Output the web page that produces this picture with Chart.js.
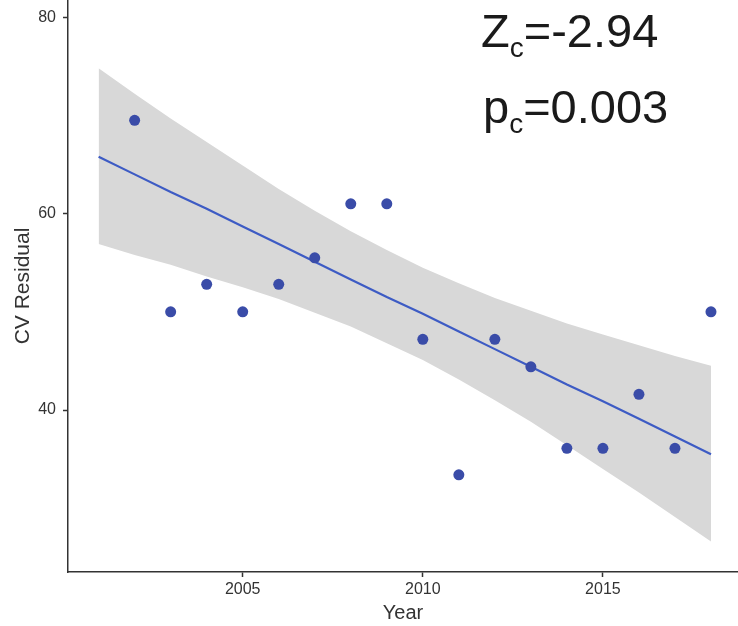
<!DOCTYPE html>
<html>
<head>
<meta charset="utf-8">
<script src="https://cdn.jsdelivr.net/npm/chart.js@4/dist/chart.umd.min.js"></script>
<style>
  body { margin: 0; background: #fff; }
  #wrap { width: 738px; height: 626px; }
</style>
</head>
<body>
<div id="wrap"><canvas id="chart" width="738" height="626"></canvas></div>
<script>
// observed points
const years = [2002, 2003, 2004, 2005, 2006, 2007, 2008, 2009, 2010, 2011, 2012, 2013, 2014, 2015, 2016, 2017, 2018];
const cvResidual = [69.5, 50.0, 52.8, 50.0, 52.8, 55.5, 61.0, 61.0, 47.2, 33.4, 47.2, 44.4, 36.1, 36.1, 41.6, 36.1, 50.0];

// fitted line and confidence band
const fitYears = [2001, 2002, 2003, 2004, 2005, 2006, 2007, 2008, 2009, 2010, 2011, 2012, 2013, 2014, 2015, 2016, 2017, 2018];
const fitValues = [65.8, 64.0, 62.2, 60.5, 58.7, 56.9, 55.1, 53.3, 51.5, 49.8, 48.0, 46.2, 44.4, 42.6, 40.9, 39.1, 37.3, 35.5];
const bandUpper = [74.8, 72.2, 69.7, 67.3, 64.9, 62.5, 60.3, 58.2, 56.3, 54.5, 52.9, 51.4, 50.1, 48.8, 47.7, 46.6, 45.5, 44.5];
const bandLower = [56.9, 55.8, 54.8, 53.6, 52.5, 51.3, 49.9, 48.5, 46.8, 45.1, 43.1, 41.0, 38.8, 36.4, 34.0, 31.6, 29.1, 26.6];

const xTicks = [2005, 2010, 2015];
const yTicks = [40, 60, 80];

const FONT = "'Liberation Sans', Arial, sans-serif";
const pairs = (xs, ys) => xs.map((x, i) => ({ x: x, y: ys[i] }));

function drawSub(ctx, main, sub, rest, x, y) {
    ctx.font = '47px ' + FONT;
    ctx.fillText(main, x, y);
    x += ctx.measureText(main).width;
    ctx.font = '28px ' + FONT;
    ctx.fillText(sub, x, y + 10);
    x += ctx.measureText(sub).width;
    ctx.font = '47px ' + FONT;
    ctx.fillText(rest, x, y);
}

const statsLabel = {
    id: 'statsLabel',
    afterDraw(chart) {
        const ctx = chart.ctx;
        ctx.save();
        ctx.fillStyle = '#1a1a1a';
        ctx.textBaseline = 'alphabetic';
        drawSub(ctx, 'Z', 'c', '=-2.94', 481, 47);
        drawSub(ctx, 'p', 'c', '=0.003', 483, 123);
        ctx.restore();
    }
};

new Chart(document.getElementById('chart').getContext('2d'), {
    type: 'scatter',
    data: {
        datasets: [
            {
                label: 'CV Residual',
                data: pairs(years, cvResidual),
                backgroundColor: '#3a4ca8',
                borderWidth: 0,
                pointRadius: 5.5,
                order: 0
            },
            {
                type: 'line',
                label: 'fit',
                data: pairs(fitYears, fitValues),
                borderColor: '#3d5bc4',
                borderWidth: 2.2,
                pointRadius: 0,
                fill: false,
                order: 1
            },
            {
                type: 'line',
                label: 'upper',
                data: pairs(fitYears, bandUpper),
                borderWidth: 0,
                pointRadius: 0,
                backgroundColor: '#d8d8d8',
                fill: '+1',
                order: 2
            },
            {
                type: 'line',
                label: 'lower',
                data: pairs(fitYears, bandLower),
                borderWidth: 0,
                pointRadius: 0,
                fill: false,
                order: 3
            }
        ]
    },
    options: {
        responsive: false,
        animation: false,
        layout: { padding: 0, autoPadding: false },
        plugins: { legend: { display: false }, tooltip: { enabled: false } },
        scales: {
            x: {
                type: 'linear',
                min: 2000.15,
                max: 2018.75,
                afterBuildTicks: (scale) => { scale.ticks = xTicks.map(v => ({ value: v })); },
                afterFit: (scale) => {
                    scale.height = 54;
                    scale.paddingLeft = 0;
                    scale.paddingRight = 0;
                },
                grid: { drawOnChartArea: false, tickLength: 5, tickColor: '#333', tickWidth: 1.5 },
                border: { display: true, color: '#333', width: 1.5 },
                ticks: {
                    color: '#333', padding: 3, maxRotation: 0,
                    font: { family: FONT, size: 16 },
                    callback: (v) => String(v)
                },
                title: { display: true, text: 'Year', color: '#333', padding: { top: 0, bottom: 1 }, font: { family: FONT, size: 20 } }
            },
            y: {
                min: 23.5,
                max: 81.76,
                afterBuildTicks: (scale) => { scale.ticks = yTicks.map(v => ({ value: v })); },
                afterFit: (scale) => {
                    scale.width = 68;
                    scale.paddingTop = 0;
                    scale.paddingBottom = 0;
                },
                grid: { drawOnChartArea: false, tickLength: 5, tickColor: '#333', tickWidth: 1.5 },
                border: { display: true, color: '#333', width: 1.5 },
                ticks: { color: '#333', padding: 7, font: { family: FONT, size: 16 } },
                title: { display: true, text: 'CV Residual', color: '#333', padding: { top: 11, bottom: 0 }, font: { family: FONT, size: 21 } }
            }
        }
    },
    plugins: [statsLabel]
});
</script>
</body>
</html>
